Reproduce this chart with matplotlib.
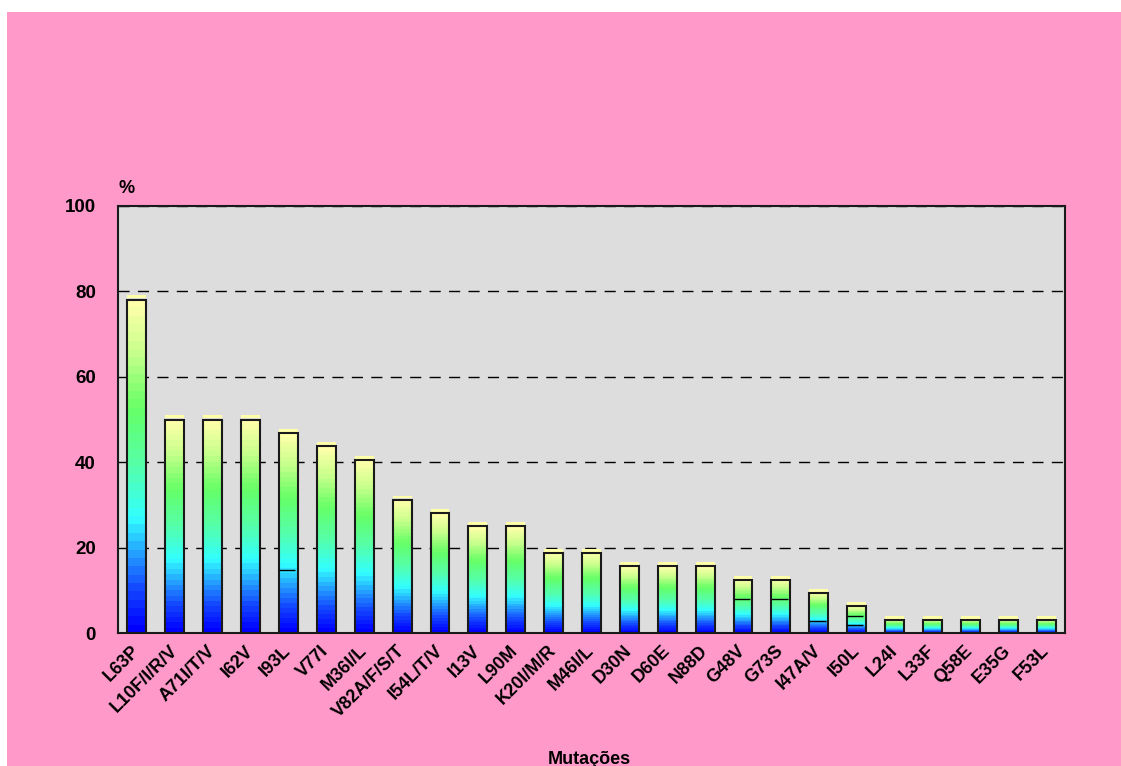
import numpy as np
import matplotlib.pyplot as plt
from matplotlib.colors import LinearSegmentedColormap
from matplotlib.patches import Rectangle

plt.rcParams['font.family'] = ['Liberation Sans', 'DejaVu Sans']
plt.rcParams['font.weight'] = 'bold'

# Mutation frequencies (%)
mutacoes = ['L63P', 'L10F/I/R/V', 'A71I/T/V', 'I62V', 'I93L', 'V77I', 'M36I/L',
            'V82A/F/S/T', 'I54L/T/V', 'I13V', 'L90M', 'K20I/M/R', 'M46I/L', 'D30N',
            'D60E', 'N88D', 'G48V', 'G73S', 'I47A/V', 'I50L', 'L24I', 'L33F',
            'Q58E', 'E35G', 'F53L']
freq = [78.1, 50.0, 50.0, 50.0, 46.9, 43.75, 40.6, 31.25, 28.1, 25.0, 25.0,
        18.75, 18.75, 15.6, 15.6, 15.6, 12.5, 12.5, 9.4, 6.25, 3.1, 3.1,
        3.1, 3.1, 3.1]
# internal segment boundaries drawn inside some bars
divisoes = {'I93L': [14.8], 'G48V': [7.9], 'G73S': [7.9],
            'I47A/V': [2.7], 'I50L': [1.8, 3.9]}

n = len(mutacoes)

cmap = LinearSegmentedColormap.from_list('barras', [
    (0.00, (0 / 255, 0 / 255, 255 / 255)),
    (0.12, (20 / 255, 70 / 255, 255 / 255)),
    (0.22, (35 / 255, 150 / 255, 255 / 255)),
    (0.34, (51 / 255, 255 / 255, 255 / 255)),
    (0.50, (85 / 255, 255 / 255, 170 / 255)),
    (0.68, (102 / 255, 255 / 255, 102 / 255)),
    (0.85, (200 / 255, 255 / 255, 140 / 255)),
    (1.00, (255 / 255, 255 / 255, 170 / 255)),
], N=256)

fig = plt.figure(figsize=(11.21, 7.66), dpi=100, facecolor='white')
# pink panel behind the chart
fig.patches.append(Rectangle((7 / 1121, 0), 1 - 7 / 1121, 1 - 12 / 766,
                             transform=fig.transFigure, facecolor='#ff99c9',
                             edgecolor='none', zorder=-5))

ax = fig.add_axes([118 / 1121, 133 / 766, 947 / 1121, 427 / 766])
ax.set_zorder(2)
ax.set_facecolor('#dddddd')

x = np.arange(n)
w = 0.50
grad = np.linspace(0, 1, 40).reshape(-1, 1)
for xi, h in zip(x, freq):
    ax.imshow(grad, cmap=cmap, origin='lower', aspect='auto',
              extent=[xi - w / 2, xi + w / 2, 0, h], zorder=2,
              interpolation='nearest')

# pale cap above each bar
ax.bar(x, 0.7, bottom=np.array(freq) + 0.25, width=w, color='#ffffaa',
       edgecolor='none', zorder=2)
ax.bar(x, freq, width=w, fill=False, edgecolor='#1a1a1a', linewidth=1.5, zorder=3)

for nome, niveis in divisoes.items():
    i = mutacoes.index(nome)
    for nv in niveis:
        ax.hlines(nv, i - w / 2, i + w / 2 - 0.07, color='black', linewidth=1, zorder=3)

ax.set_xlim(-0.5, n - 0.5)
ax.set_ylim(0, 100)
ax.set_yticks([0, 20, 40, 60, 80, 100])
ax.yaxis.grid(True, color='black', linestyle=(0, (8, 6)), linewidth=1)
ax.set_axisbelow(True)
ax.tick_params(axis='y', length=0, pad=16, labelsize=13.5)
ax.set_xticks(x)
ax.set_xticklabels(mutacoes, rotation=45, ha='right', va='center',
                   rotation_mode='anchor', fontsize=13)
ax.tick_params(axis='x', length=0, pad=11)
for s in ax.spines.values():
    s.set_linewidth(1.5)
    s.set_color('#1a1a1a')

ax.text((127 - 118) / 947, 1.042, '%', transform=ax.transAxes,
        ha='center', va='center', fontsize=13, fontweight='bold')
fig.text(589 / 1121, 0.002, 'Mutações', ha='center', va='baseline',
         fontsize=13, fontweight='bold')

fig.savefig('out.png', dpi=100, facecolor='white')
